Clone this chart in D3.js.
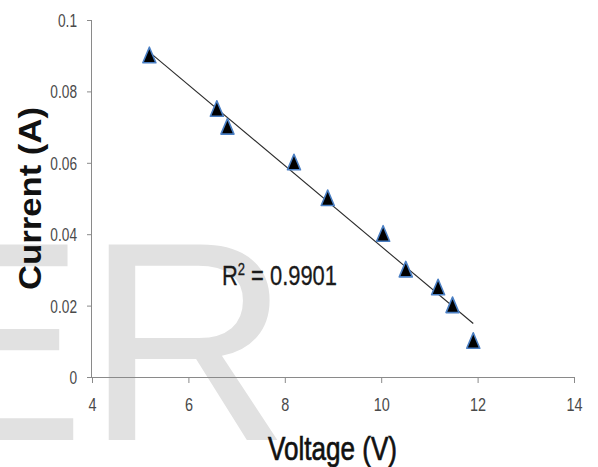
<!DOCTYPE html>
<html>
<head>
<meta charset="utf-8">
<script src="https://cdn.jsdelivr.net/npm/d3@7"></script>
<style>
  html, body { margin: 0; padding: 0; background: #fff; }
  svg { display: block; }
</style>
</head>
<body>
<svg id="chart" width="598" height="467"></svg>
<script>
// Measured voltage / current pairs
const voltage = [5.19, 6.59, 6.81, 8.19, 8.89, 10.04, 10.51, 11.18, 11.48, 11.91];
const current = [0.090, 0.075, 0.070, 0.060, 0.050, 0.040, 0.030, 0.025, 0.020, 0.010];

const xTicks = [4, 6, 8, 10, 12, 14];
const yTicks = [0, 0.02, 0.04, 0.06, 0.08, 0.1];
const yTickLabels = ["0", "0.02", "0.04", "0.06", "0.08", "0.1"];

const xTitle = "Voltage (V)";
const yTitle = "Current (A)";
const fitLabel = "0.9901";
const watermark = "ER";

const svg = d3.select("#chart");

const x = d3.scaleLinear().domain([4, 14]).range([92, 574]);
const y = d3.scaleLinear().domain([0, 0.1]).range([377, 20]);

// squeeze text horizontally to a narrow face
function squeeze(sel, k) {
  sel.each(function () {
    const len = this.getComputedTextLength();
    d3.select(this).attr("textLength", len * k).attr("lengthAdjust", "spacingAndGlyphs");
  });
}

// background watermark letters
svg.append("text")
  .attr("x", -104).attr("y", 440)
  .attr("font-family", "Liberation Sans, Arial, sans-serif")
  .attr("font-size", 284)
  .attr("fill", "#e1e1e1")
  .text(watermark);

const axisColor = "#8a8a8a";
const labelColor = "#4a4a4a";

// y axis
const yAxis = svg.append("g").attr("transform", `translate(${x(4)},0)`)
  .call(d3.axisLeft(y).tickValues(yTicks).tickSize(5).tickFormat((d, i) => yTickLabels[i]));
yAxis.select(".domain").attr("stroke", axisColor).attr("d", `M-0.5,${y(0.1)}V${y(0)}`);
yAxis.selectAll(".tick line").attr("stroke", axisColor);
yAxis.selectAll(".tick text")
  .attr("fill", labelColor)
  .attr("font-family", "Liberation Sans, Arial, sans-serif")
  .attr("font-size", 18)
  .attr("x", -15)
  .attr("dy", "0.36em")
  .call(squeeze, 0.76);

// x axis
const xAxis = svg.append("g").attr("transform", `translate(0,${y(0)})`)
  .call(d3.axisBottom(x).tickValues(xTicks).tickSize(6).tickFormat(d3.format("d")));
xAxis.select(".domain").attr("stroke", axisColor).attr("d", `M${x(4)},0.5H${x(14)}`);
xAxis.selectAll(".tick line").attr("stroke", axisColor);
xAxis.selectAll(".tick text")
  .attr("fill", labelColor)
  .attr("font-family", "Liberation Sans, Arial, sans-serif")
  .attr("font-size", 19)
  .attr("y", 21)
  .attr("dy", "0.71em")
  .call(squeeze, 0.76);

// least-squares trend line over the measured range
const mx = d3.mean(voltage), my = d3.mean(current);
const sxy = d3.sum(voltage, (v, i) => (v - mx) * (current[i] - my));
const sxx = d3.sum(voltage, v => (v - mx) * (v - mx));
const slope = sxy / sxx, intercept = my - slope * mx;
const [x0, x1] = d3.extent(voltage);
svg.append("line")
  .attr("x1", x(x0)).attr("y1", y(intercept + slope * x0))
  .attr("x2", x(x1)).attr("y2", y(intercept + slope * x1))
  .attr("stroke", "#2b2b2b").attr("stroke-width", 1.1);

// triangle markers
const tri = "M0,-8.5L6.5,7L-6.5,7Z";
svg.append("g").selectAll("path")
  .data(voltage.map((v, i) => [v, current[i]]))
  .join("path")
  .attr("transform", d => `translate(${x(d[0])},${y(d[1])})`)
  .attr("d", tri)
  .attr("fill", "#000")
  .attr("stroke", "#4a7fc4")
  .attr("stroke-width", 1.6)
  .attr("stroke-linejoin", "round");

// R² annotation
const r2 = svg.append("text")
  .attr("x", 222).attr("y", 285)
  .attr("font-family", "Liberation Sans, Arial, sans-serif")
  .attr("font-size", 27)
  .attr("fill", "#1a1a1a")
  .attr("stroke", "#1a1a1a").attr("stroke-width", 0.3);
r2.append("tspan").text("R");
r2.append("tspan").attr("font-size", 16).attr("dy", -10).text("2");
r2.append("tspan").attr("dy", 10).text(" = " + fitLabel);
r2.attr("textLength", 115).attr("lengthAdjust", "spacingAndGlyphs");

// axis titles
svg.append("text")
  .attr("x", 332.5).attr("y", 460)
  .attr("text-anchor", "middle")
  .attr("font-family", "Liberation Sans, Arial, sans-serif")
  .attr("font-size", 34)
  .attr("fill", "#111")
  .attr("stroke", "#111").attr("stroke-width", 0.7)
  .attr("textLength", 129).attr("lengthAdjust", "spacingAndGlyphs")
  .text(xTitle);

svg.append("text")
  .attr("transform", "translate(41,198.5) rotate(-90)")
  .attr("text-anchor", "middle")
  .attr("font-family", "Liberation Sans, Arial, sans-serif")
  .attr("font-weight", "bold")
  .attr("font-size", 31)
  .attr("fill", "#111")
  .attr("textLength", 183).attr("lengthAdjust", "spacingAndGlyphs")
  .text(yTitle);
</script>
</body>
</html>
